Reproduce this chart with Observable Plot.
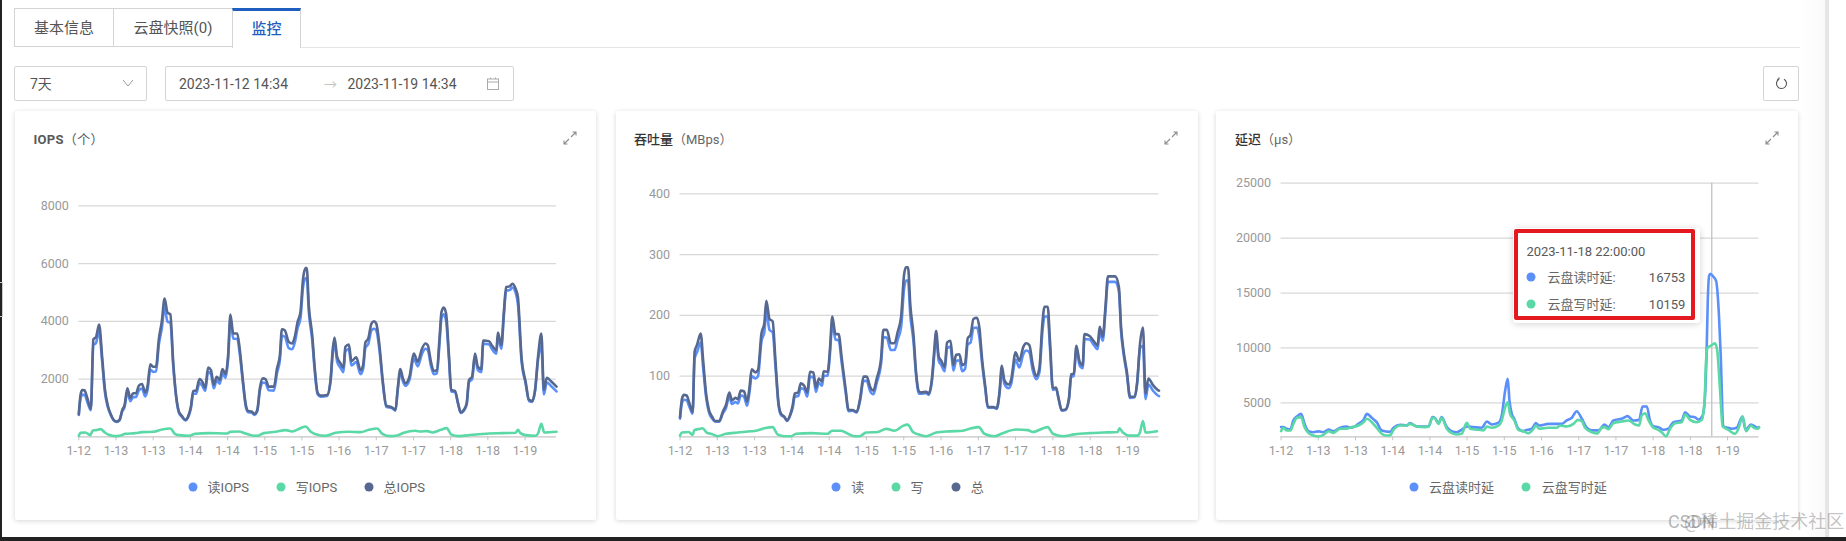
<!DOCTYPE html>
<html lang="zh">
<head>
<meta charset="utf-8">
<script src="https://cdn.jsdelivr.net/npm/d3@7"></script>
<script src="https://cdn.jsdelivr.net/npm/@observablehq/plot@0.6"></script>
<style>
html,body{margin:0;padding:0;background:#fff;overflow:hidden}
body{width:1846px;height:541px;position:relative;font-family:Roboto,"Noto Sans CJK SC",sans-serif;color:#595959}
svg{display:block}
.a{position:absolute;white-space:nowrap}
.box{position:absolute;box-sizing:border-box;border:1px solid #d4d4d4;background:#fff;border-radius:2px}
.card{position:absolute;box-sizing:border-box;background:#fff;box-shadow:0 1px 5px rgba(0,0,0,.16);border-radius:2px;top:111px;height:409px}
.mid{transform:translateY(-50%);line-height:1}
.title{font-size:13px;color:#333}
.title b{font-weight:700;color:#333}
.title span{color:#666}
.dot{position:absolute;width:9px;height:9px;border-radius:50%;transform:translate(-50%,-50%)}
.leg{font-size:13px;color:#666}
.plot{position:absolute;top:170px}
.plot svg{background:transparent;display:block}
.tab{position:absolute;top:8px;height:39px;box-sizing:border-box;border:1px solid #d4d4d4;background:#fff;font-size:15px;color:#555;text-align:center;line-height:39px}
</style>
</head>
<body>
<script>
const tickHours = [0,13,26,39,52,65,78,91,104,117,130,143,156];
const tickLabels = ["1-12","1-13","1-13","1-14","1-14","1-15","1-15","1-16","1-17","1-17","1-18","1-18","1-19"];

const iopsHours = [
0,0.6,1.2,2,3,4.2,5.1,6,7.1,8.2,
9.1,10.1,11.2,12.2,13.3,14.2,15.2,16,17,18,
19,20,21,22.1,23.2,24,25,26,27,28,
29,30,31,32,33,34,35,36,37.3,38.2,
39.2,40,41,42.2,43.2,44.2,45.2,46.2,47.2,48.2,
49.3,50.2,51.3,52.2,53,54,55.4,56.3,57.3,58.4,
59.2,60.4,61.4,62.4,63.3,64.3,65.3,66.4,68.2,69.3,
70.3,71,72,73.4,74.6,75.5,76.5,77.5,78.4,79.3,
79.7,80.4,81.6,82.5,83.5,84.5,86.8,88,88.8,89.4,
90.3,91.5,92.5,93.2,94.4,95.3,97,98.5,99.4,100.2,
101.2,102.3,103.2,104,105.1,106.3,107.5,109.6,110.7,111.5,
112.4,113.3,114.2,115.6,117.1,118.5,120,121.2,122,123.1,
124.1,125.2,126.1,126.8,127.6,128.4,129.4,130.2,131.5,132.6,
133.5,134.6,135.6,136.4,137.5,138.5,139.5,140.7,141.4,143.4,
144.5,146,146.5,147.7,148.6,149.4,150.6,151.6,152.7,153.5,
154.8,156.2,157.4,158.5,159.5,160.6,161.7,162.6,163.6,165,167];
const iopsTotal = [
782,1450,1620,1610,1334,966,3380,3450,3887,2714,
1680,1100,782,586,529,586,930,1100,1680,1334,
1506,1506,1770,1830,1540,1736,2507,2426,2426,3400,
3980,4784,4300,4240,2600,1450,874,725,586,700,
1046,1587,1600,2000,1900,1700,2400,2310,1800,2080,
1970,2346,2170,2830,4232,3576,3576,3000,2024,1100,
897,874,793,930,1680,2024,2000,1736,1736,2370,
2830,3726,3690,3290,3230,3460,3980,4324,5474,5842,
5842,4554,3520,2370,1520,1426,1449,1966,3060,3438,
2770,2540,2390,3116,3197,2622,2750,2310,2484,3266,
3404,3920,4000,3920,3174,1909,1081,1012,931,1679,
2346,2024,1851,2081,2886,2600,3059,3231,3174,2600,
2277,2311,3404,4324,4473,4266,2829,1621,1587,1161,
851,931,1161,1966,2081,2886,2426,2346,3335,3312,
3151,3000,3611,3174,4324,5186,5209,5301,5129,4841,
2714,1909,1276,1242,1621,2829,3576,1621,2047,1932,1736];
const iopsRead = [
760,1320,1460,1450,1200,920,3180,3250,3640,2560,
1560,1040,750,570,515,560,880,1030,1560,1230,
1370,1380,1610,1670,1400,1600,2330,2250,2260,3200,
3740,4480,3980,3960,2460,1390,830,700,570,670,
990,1490,1490,1860,1760,1590,2250,2160,1680,1950,
1840,2190,2040,2680,4030,3400,3390,2850,1930,1030,
850,840,760,890,1590,1880,1860,1610,1600,2210,
2660,3500,3470,3070,3030,3260,3770,4100,5190,5490,
5500,4330,3350,2250,1470,1390,1410,1900,2900,3290,
2600,2390,2240,2950,3040,2470,2590,2170,2350,3090,
3210,3680,3740,3680,3000,1820,1040,985,905,1620,
2240,1920,1760,1970,2710,2440,2880,3050,3000,2460,
2170,2200,3230,4110,4240,4000,2700,1570,1550,1135,
830,905,1120,1890,2000,2760,2310,2240,3220,3200,
3030,2880,3480,3050,4190,5060,5080,5170,4990,4600,
2590,1850,1240,1210,1580,2700,3130,1470,1890,1770,1570];
const iopsWriteHours = [0,0.6,2.3,4,4.9,6,7.6,9.1,10.5,12.8,14.6,16.3,19.8,22.1,26.2,29.1,32,33.6,35,38.5,40.8,45.5,51.9,53,55.9,58.3,60.6,62.4,64.7,68.8,72.3,74.6,77.5,79.3,81,82.8,86.3,89.8,94.4,98.5,101.4,104.3,106.1,109,111.3,113.6,117.7,119.5,121.8,123.6,126.5,128.6,130.3,132.9,137.5,143.4,148,152.7,153.5,154.4,156.2,159.7,160.6,161.7,162.7,167];
const iopsWrite = [35,138,150,58,218,230,265,150,69,23,46,104,127,161,173,253,288,104,58,35,104,127,115,173,184,115,46,35,127,173,230,184,299,356,184,90,35,138,173,161,241,288,104,23,46,138,207,184,196,150,241,299,69,23,69,115,127,138,241,127,58,35,127,449,150,173];

const mbpsHours = [
0,0.7,1.4,2.3,3.3,4.4,5.1,6,7.2,8.1,
9.1,10.1,11.2,12.3,13.7,14.9,16,17.2,18.1,19.3,
20.2,21.2,22.3,23.4,24.2,25,26.3,27.2,28.4,29.4,
30.1,31.2,32.3,33.3,34.3,35.2,36.4,37.3,38.4,39.3,
40,41.2,42.1,43.3,44.4,45.3,46.5,47.4,48.4,49.5,
50.1,51.5,52.3,53.1,54.2,55.3,56.4,57.7,58.8,60.2,
61.6,62.8,64,65.1,66.3,67.4,68.6,70.1,70.9,72.1,
73.5,74.8,75.9,77.1,78.1,78.8,79.5,80.3,81.4,82.3,
83.3,84,85.8,86.7,87.9,88.6,89.3,90.2,91.1,92.3,
93.1,94.3,95.3,96.3,97.4,98.4,99.4,100.3,101.3,102.3,
103.5,104.4,105.3,106.5,107.3,109.3,110.4,111.4,112.2,113.1,
114.5,115.4,117,118.3,119.7,120.7,121.8,123,124.2,125.3,
126.3,127.1,128.2,129,130,131.1,132,133.1,134.4,135.6,
136.4,137.3,138.2,139.3,140.4,141,142.8,144.3,145.6,146.3,
147.4,148.3,149.2,151.7,153,153.8,154.6,155.8,156.9,158.5,
159.4,160.4,161.4,162.3,163.3,164.9,166.6,167];
const mbpsTotal = [
32,63,69,68,55,41,140,152,170,124,
71,44,33,26,26,41,52,73,60,64,
62,76,75,58,80,111,106,110,170,187,
224,194,190,124,58,38,33,27,36,52,
71,73,88,84,73,107,106,81,96,91,
108,107,146,198,169,169,129,80,44,44,
41,63,99,99,82,76,96,129,176,176,
154,154,173,198,266,279,279,217,168,107,
75,73,74,71,99,140,174,132,125,115,
155,158,118,135,136,118,121,162,168,194,
196,179,129,80,49,49,47,74,117,93,
86,93,139,125,148,154,151,118,100,113,
184,214,214,157,80,81,63,44,45,63,
103,104,150,124,118,169,166,157,150,181,
165,212,264,264,247,179,143,107,66,66,
91,154,180,71,96,85,77,76];
const mbpsRead = [
30,56,61,60,49,38,129,140,155,112,
65,40,30,25,25,38,47,66,54,57,
55,68,66,51,72,100,96,100,157,172,
207,176,172,114,54,36,32,26,35,48,
66,67,80,78,66,99,98,74,89,84,
100,101,137,187,160,159,121,75,42,43,
40,60,92,92,75,70,89,120,164,163,
143,143,160,181,243,257,257,200,157,101,
71,71,72,69,94,132,165,125,118,108,
146,148,109,125,126,108,112,152,155,179,
180,163,121,76,48,48,46,71,110,87,
80,86,127,114,136,142,139,109,95,106,
170,198,198,145,77,79,62,43,44,61,
99,100,144,118,113,161,160,151,144,172,
158,204,255,255,240,172,138,102,64,65,
88,146,150,62,86,76,68,67];
const mbpsWriteHours = [0,0.7,3,4.4,5,6.7,7.9,9.3,11.4,13.1,16,20.1,24.8,26.5,29.4,32.3,34,36.4,38.7,40.5,45.7,51.5,53,56.2,58.5,60.8,62.6,64.9,69,71.9,74.8,77.7,79.4,81.2,83.8,85.8,89.3,93.9,98.6,101.5,104.2,106.1,109.6,112.5,117.2,121.3,123,128.2,130,133.5,137.5,142.8,147.4,152.6,153.2,154.4,156.7,159.6,160.4,161.4,162.3,166.3];
const mbpsWrite = [2,7,8,3,11,13,14,7,4,1,5,7,9,10,14,16,4,1,1,5,6,5,10,10,5,1,1,7,8,13,10,18,20,8,3,1,7,9,10,14,16,5,1,6,12,11,8,16,5,1,4,6,7,8,14,7,2,2,8,26,7,9];

const latReadHours = [0,0.8,2,3.2,4.3,5.5,7,8.2,9.6,11.3,13,14.8,16.6,18.3,20.6,22.7,24.7,27,28.8,30,31.7,33.4,35.2,38,39.3,41.6,43.9,45,47.4,50.3,51.5,52.9,53.8,55,56.1,57.9,59.6,61.4,63.1,64.9,67.2,70.1,71.9,73.6,76,77.1,78.3,79.2,79.8,80.6,81.5,82.9,84.6,85.3,87.6,89,90.2,93.4,95.8,98.1,99.8,101.6,103.3,105.1,106.8,108.6,110.9,113,114.4,116.1,119,121.1,123.1,125.1,126.3,127.8,128.9,130.1,131.8,133.6,135.3,137.1,140,141.2,142.9,144.6,145.8,147.3,148.1,148.7,149.1,149.6,150,151,152,153,153.6,154.5,156.3,157.5,159.2,161.2,162.3,164.2,166.5,167];
const latRead = [2790,2790,2640,2580,3400,3760,4000,3090,2420,2330,2400,2330,2580,2420,2730,2850,2730,3090,3450,4000,3640,3240,2480,2360,2730,3000,2940,3150,2850,2850,2850,3700,3600,3150,3700,2790,2420,2330,2550,2850,2790,2730,3300,3030,3210,3850,6120,7180,5210,4000,3540,2640,2420,2490,2640,3150,2940,3090,3090,3090,3400,3640,4240,3550,2730,2490,2490,3030,2790,3400,3550,3790,3400,3450,4670,4670,3400,2880,2790,2550,2640,3240,3400,4150,3760,3700,3480,3850,5500,9760,14300,16600,16753,16500,16100,13000,9500,2850,2730,2640,2730,3760,2550,3030,2730,2790];
const latWriteHours = [0,0.8,2,3.2,4.3,5.5,7,8.2,9.6,11.3,13,14.8,16.6,18.3,20.6,22.7,24.7,27,28.8,30,31.7,33.4,35.2,36.4,38,39.3,41.6,43.9,45,47.4,50.3,51.5,52.9,53.8,55,56.1,57.9,59.6,61.4,63.1,64.9,66.1,69,70.7,71.9,73.6,76,77.1,78.3,79.2,80,81.5,82.9,84.6,85.3,86.4,88.2,89,90.2,93.4,96.3,97.5,99.8,102.2,103.7,105.1,106.2,108.6,110.5,112,113,114.4,116.1,119,121.4,123.7,125.1,126,127.2,128.4,130.1,131.8,133,134.5,135.9,137.7,140,141.2,142.9,145.2,147,148,148.5,149.1,149.9,151.6,152.4,153.4,154.3,156.3,158.6,159.8,161.3,162.5,164.2,165.4,166.5,167];
const latWrite = [2420,2730,2480,2480,3090,3640,3700,2790,2240,2030,1940,2090,2420,2270,2640,2640,2790,2940,3240,3550,3240,2730,2180,2030,2030,2550,2940,2940,3090,2850,2790,2850,3640,3600,3090,3640,2640,2240,2120,2180,3180,2640,2550,2480,2850,2730,2940,3400,4600,5060,4000,3400,2550,2420,2330,2240,2640,2940,2640,2730,2730,2940,2850,3090,3450,3330,2730,2330,2210,2730,2790,2610,3150,3300,3400,3030,2940,3850,4060,3400,2730,2550,2330,1940,2640,3150,3240,3940,3450,3240,3450,5200,8850,10060,10159,10420,9760,6120,2850,2550,2180,2640,3760,2420,2940,2700,2640,2760];

const READ = "#5B8FF9", WRITE = "#5AD8A6", TOTAL = "#56688F";
const FONT = 'Roboto,"Noto Sans CJK SC",sans-serif';

function chart({left, width, ml, mr, mt, yDomain, yTicks, series}) {
  const plot = Plot.plot({
    width, height: 290,
    marginLeft: ml, marginRight: mr, marginTop: mt, marginBottom: 23.7,
    style: {fontFamily: FONT, fontSize: "12.5px", background: "transparent"},
    x: {domain: [0, 167], axis: null},
    y: {domain: yDomain, axis: null},
    marks: [
      Plot.ruleY(yTicks, {stroke: "#d8d8d8", strokeWidth: 1.2}),
      Plot.ruleY([yDomain[0]], {stroke: "#c4c4c4", strokeWidth: 1.2}),
      Plot.axisY(yTicks, {anchor: "left", tickSize: 0, tickPadding: 10, fill: "#999", fontSize: 12.5, label: null, tickFormat: d => String(d)}),
      Plot.axisX(tickHours, {anchor: "bottom", tickSize: 4, tickPadding: 5, stroke: "#c4c4c4", fill: "#999", fontSize: 12.5, label: null, tickFormat: (d, i) => tickLabels[i]}),
      ...(series.extra || []),
      ...series.lines.map(s => Plot.line(s.h, {x: s.h, y: s.v, stroke: s.c, strokeWidth: 2.6, curve: "monotone-x"}))
    ]
  });
  const d = document.createElement("div");
  d.className = "plot";
  d.style.left = left + "px";
  d.append(plot);
  return d;
}

function el(tag, cls, css, html) {
  const e = document.createElement(tag);
  if (cls) e.className = cls;
  if (css) e.style.cssText = css;
  if (html != null) e.innerHTML = html;
  document.body.append(e);
  return e;
}
function text(x, y, s, css) { return el("div", "a mid", `left:${x}px;top:${y}px;${css||""}`, s); }
function legend(y, items) {
  for (const [dx, tx, c, s] of items) {
    el("div", "dot", `left:${dx}px;top:${y}px;background:${c}`);
    text(tx, y, s, "font-size:13px;color:#666");
  }
}
function expandIcon(x, y) {
  el("div", "a", `left:${x-7}px;top:${y-7}px;width:14px;height:14px`,
    `<svg width="14" height="14" viewBox="0 0 14 14" fill="none" stroke="#8c8c8c" stroke-width="1.1"><path d="M8 6 L13 1 M9.5 1 H13 V4.5 M6 8 L1 13 M1 9.5 V13 H4.5"/></svg>`);
}

// frame
el("div", "a", "left:0;top:0;width:2px;height:541px;background:#222");
el("div", "a", "left:0;top:537px;width:1846px;height:4px;background:#222");
el("div", "a", "left:1800px;top:0;width:25px;height:537px;background:linear-gradient(to right,#fff,#fafafa)");
el("div", "a", "left:1825px;top:0;width:4px;height:537px;background:#e6e6e6");
el("div", "a", "left:0;top:282px;width:3px;height:35px;border:1px solid #ccc;border-left:none;box-sizing:border-box");

// tabs
el("div", "a", "left:300px;top:47px;width:1500px;height:1px;background:#e6e6e6");
el("div", "tab", "left:14px;width:100px", "基本信息");
el("div", "tab", "left:113px;width:120px", "云盘快照(0)");
el("div", "tab", "left:232px;width:69px;border-top:3px solid #1f5fc0;border-bottom:none;color:#1f5fc0;font-weight:500;line-height:36px;height:40px", "监控");

// filter row
el("div", "box", "left:14px;top:66px;width:133px;height:35px");
text(30, 83.5, "7天", "font-size:14px;color:#555");
el("div", "a", "left:122px;top:79px;width:12px;height:8px", `<svg width="12" height="8" viewBox="0 0 12 8" fill="none" stroke="#999" stroke-width="1"><path d="M1 1 L6 7 L11 1"/></svg>`);
el("div", "box", "left:165px;top:66px;width:349px;height:35px");
text(179, 83.5, "2023-11-12 14:34", "font-size:14px;color:#555");
text(324, 83.5, "→", "font-size:13px;color:#c4c4c4");
text(347.5, 83.5, "2023-11-19 14:34", "font-size:14px;color:#555");
el("div", "a", "left:487px;top:77px;width:12px;height:13px", `<svg width="12" height="13" viewBox="0 0 12 13" fill="none" stroke="#aaa" stroke-width="1"><rect x="0.5" y="2" width="11" height="10.5"/><path d="M0.5 5 H11.5 M3.5 0.5 V2 M8.5 0.5 V2"/></svg>`);
el("div", "box", "left:1763px;top:66px;width:36px;height:35px");
el("div", "a", "left:1775px;top:77px;width:13px;height:13px", `<svg width="13" height="13" viewBox="0 0 13 13" fill="none" stroke="#555" stroke-width="1.1"><path d="M4 2.2 A5 5 0 1 0 9 2.2 M4 2.2 V0.4 M4 2.2 H2.2"/></svg>`);

// cards
el("div", "card", "left:15px;width:581px");
el("div", "card", "left:615.5px;width:582px");
el("div", "card", "left:1216px;width:582px");

text(33.5, 138.5, "<b>IOPS</b><span>（个）</span>", "font-size:13px;letter-spacing:.3px");
text(634, 138.5, "<b style='font-weight:500;color:#333'>吞吐量</b><span style='color:#666'>（MBps）</span>", "font-size:13px");
text(1235, 138.5, "<b style='font-weight:500;color:#333'>延迟</b><span style='color:#666'>（μs）</span>", "font-size:13px");
expandIcon(570, 138); expandIcon(1171, 138); expandIcon(1772, 138);

document.body.append(chart({
  left: 15, width: 581, ml: 63.3, mr: 40, mt: 35.3,
  yDomain: [0, 8000], yTicks: [2000, 4000, 6000, 8000],
  series: {lines: [
    {h: iopsHours, v: iopsRead, c: READ},
    {h: iopsWriteHours, v: iopsWrite, c: WRITE},
    {h: iopsHours, v: iopsTotal, c: TOTAL}
  ]}
}));
document.body.append(chart({
  left: 615.5, width: 582, ml: 63.5, mr: 39.5, mt: 23.3,
  yDomain: [0, 400], yTicks: [100, 200, 300, 400],
  series: {lines: [
    {h: mbpsHours, v: mbpsRead, c: READ},
    {h: mbpsWriteHours, v: mbpsWrite, c: WRITE},
    {h: mbpsHours, v: mbpsTotal, c: TOTAL}
  ]}
}));
document.body.append(chart({
  left: 1216, width: 582, ml: 64.6, mr: 39.5, mt: 12.7,
  yDomain: [1909, 25000], yTicks: [5000, 10000, 15000, 20000, 25000],
  series: {
    extra: [Plot.ruleX([150.5], {stroke: "#bdbdbd", strokeWidth: 1.2})],
    lines: [
      {h: latReadHours, v: latRead, c: READ},
      {h: latWriteHours, v: latWrite, c: WRITE}
    ]
  }
}));

legend(486.7, [[192.6, 207.6, READ, "读IOPS"], [280.7, 295.8, WRITE, "写IOPS"], [369, 383.6, TOTAL, "总IOPS"]]);
legend(487, [[836, 851.2, READ, "读"], [895.6, 910.4, WRITE, "写"], [955.5, 970.7, TOTAL, "总"]]);
legend(487, [[1413.6, 1429, READ, "云盘读时延"], [1526.4, 1541.8, WRITE, "云盘写时延"]]);

// tooltip
el("div", "a", "left:1513px;top:228px;width:187px;height:95px;background:#fff;box-shadow:0 1px 7px rgba(0,0,0,.18);border-radius:3px");
el("div", "a", "left:1514px;top:228.5px;width:181px;height:91px;box-sizing:border-box;border:4px solid #e3191f;border-radius:2px");
text(1526.4, 250.7, "2023-11-18 22:00:00", "font-size:13px;color:#595959");
el("div", "dot", `left:1530.5px;top:277.3px;background:${READ}`);
text(1547.5, 277.3, "云盘读时延:", "font-size:13px;color:#666");
text(1685.4, 277.3, "16753", "font-size:13px;color:#595959;transform:translate(-100%,-50%)");
el("div", "dot", `left:1530.5px;top:303.7px;background:${WRITE}`);
text(1547.5, 303.7, "云盘写时延:", "font-size:13px;color:#666");
text(1685.4, 303.7, "10159", "font-size:13px;color:#595959;transform:translate(-100%,-50%)");

// watermark
text(1668, 521.5, "CSDN", "font-size:18px;color:rgba(110,110,110,.5)");
text(1684, 521.5, "@稀土掘金技术社区", "font-size:18px;color:rgba(110,110,110,.42)");
</script>
</body>
</html>
